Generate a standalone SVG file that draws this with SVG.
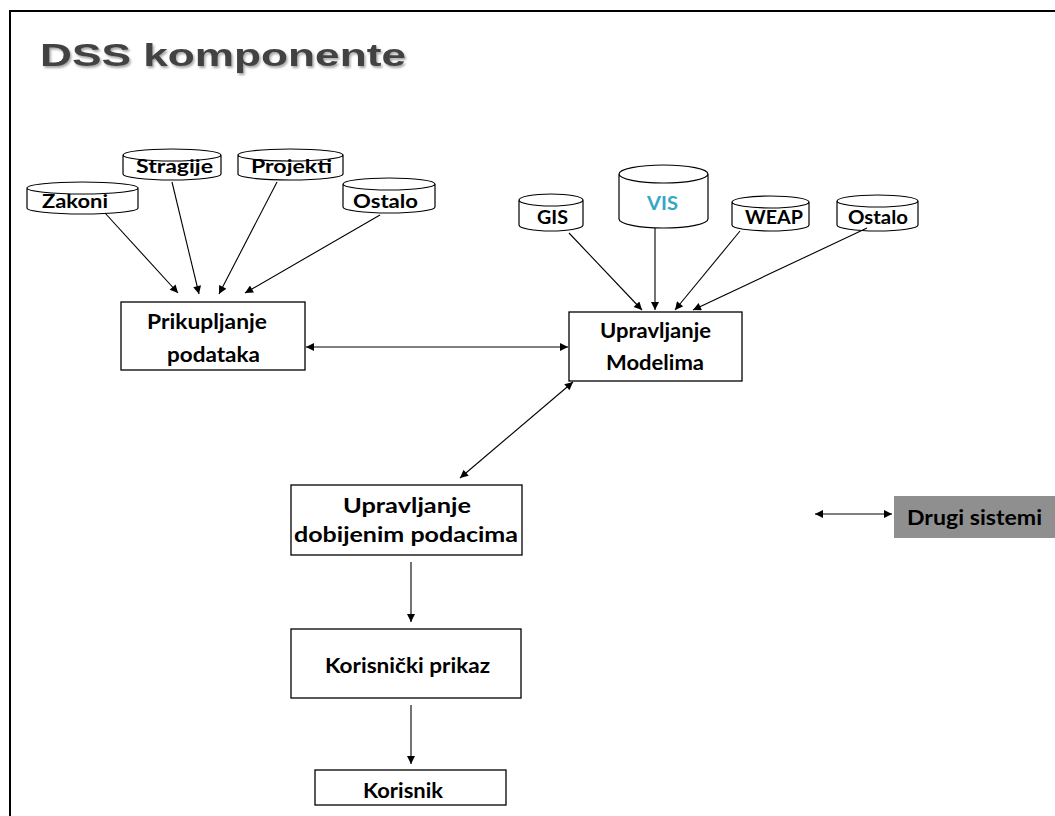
<svg xmlns="http://www.w3.org/2000/svg" width="1055" height="816" viewBox="0 0 1055 816">
<defs>
<marker id="ah" viewBox="0 0 10 10" refX="10" refY="5" markerWidth="9" markerHeight="8" markerUnits="userSpaceOnUse" orient="auto-start-reverse">
<path d="M0,0 L10,5 L0,10 Z" fill="#000"/>
</marker>
<filter id="sh" x="-5%" y="-20%" width="110%" height="150%">
<feDropShadow dx="1.5" dy="2" stdDeviation="1.2" flood-color="#000" flood-opacity="0.35"/>
</filter>
</defs>
<style>
.box{fill:#fff;stroke:#000;stroke-width:1.3}
.cyl{fill:#fff;stroke:#000;stroke-width:1.2}
.lbl{font-family:Lato,"Open Sans","Liberation Sans",sans-serif;font-weight:700;fill:#000;text-anchor:start}
.s18{font-size:18px}
.s21{font-size:21px}
.con line{stroke:#000;stroke-width:1.1}
</style>
<rect width="1055" height="816" fill="#fff"/>
<path d="M10,816 V11 H1055" fill="none" stroke="#000" stroke-width="2"/>
<text x="40" y="66" font-family="Liberation Sans, Arial, sans-serif" font-weight="700" font-size="32" fill="#424242" textLength="366" lengthAdjust="spacingAndGlyphs" filter="url(#sh)">DSS komponente</text>

<g id="zakoni">
<path class="cyl" d="M27,188 A55.5,6 0 0 1 138,188 V208 A55.5,6 0 0 1 27,208 Z M27,188 A55.5,6 0 0 0 138,188"/>
<text class="lbl s18" x="42" y="208" textLength="66" lengthAdjust="spacingAndGlyphs">Zakoni</text>
</g>
<g id="stragije">
<path class="cyl" d="M123,155 A49,6 0 0 1 221,155 V174 A49,6 0 0 1 123,174 Z M123,155 A49,6 0 0 0 221,155"/>
<text class="lbl s18" x="136" y="173" textLength="77" lengthAdjust="spacingAndGlyphs">Stragije</text>
</g>
<g id="projekti">
<path class="cyl" d="M238,155 A52.5,6 0 0 1 343,155 V174 A52.5,6 0 0 1 238,174 Z M238,155 A52.5,6 0 0 0 343,155"/>
<text class="lbl s18" x="251" y="173" textLength="81" lengthAdjust="spacingAndGlyphs">Projekti</text>
</g>
<g id="ostalo1">
<path class="cyl" d="M343,184 A46,6 0 0 1 435,184 V207 A46,6 0 0 1 343,207 Z M343,184 A46,6 0 0 0 435,184"/>
<text class="lbl s18" x="353" y="208" textLength="65" lengthAdjust="spacingAndGlyphs">Ostalo</text>
</g>

<g id="gis">
<path class="cyl" d="M519,200 A32,6 0 0 1 583,200 V225 A32,6 0 0 1 519,225 Z M519,200 A32,6 0 0 0 583,200"/>
<text class="lbl s18" x="537" y="224" textLength="31" lengthAdjust="spacingAndGlyphs">GIS</text>
</g>
<g id="vis">
<path class="cyl" d="M619,174 A44.5,9 0 0 1 708,174 V219 A44.5,9 0 0 1 619,219 Z M619,174 A44.5,9 0 0 0 708,174"/>
<text class="lbl s18" x="647" y="210" textLength="31" lengthAdjust="spacingAndGlyphs" style="fill:#36a6c6">VIS</text>
</g>
<g id="weap">
<path class="cyl" d="M732,202 A38.5,6 0 0 1 809,202 V225 A38.5,6 0 0 1 732,225 Z M732,202 A38.5,6 0 0 0 809,202"/>
<text class="lbl s18" x="745" y="224" textLength="58" lengthAdjust="spacingAndGlyphs">WEAP</text>
</g>
<g id="ostalo2">
<path class="cyl" d="M837,201 A40.5,6 0 0 1 918,201 V225 A40.5,6 0 0 1 837,225 Z M837,201 A40.5,6 0 0 0 918,201"/>
<text class="lbl s18" x="848" y="224" textLength="60" lengthAdjust="spacingAndGlyphs">Ostalo</text>
</g>

<g id="prikupljanje">
<rect class="box" x="121" y="302" width="184" height="68"/>
<text class="lbl s21" x="147" y="329" textLength="120" lengthAdjust="spacingAndGlyphs">Prikupljanje</text>
<text class="lbl s21" x="167" y="362" textLength="93" lengthAdjust="spacingAndGlyphs">podataka</text>
</g>
<g id="upravljanje-modelima">
<rect class="box" x="569" y="312" width="173" height="69"/>
<text class="lbl s21" x="600" y="338" textLength="111" lengthAdjust="spacingAndGlyphs">Upravljanje</text>
<text class="lbl s21" x="606" y="370" textLength="98" lengthAdjust="spacingAndGlyphs">Modelima</text>
</g>
<g id="upravljanje-podacima">
<rect class="box" x="291" y="485" width="231" height="70"/>
<text class="lbl s21" x="343" y="513" textLength="128" lengthAdjust="spacingAndGlyphs">Upravljanje</text>
<text class="lbl s21" x="294" y="542" textLength="224" lengthAdjust="spacingAndGlyphs">dobijenim  podacima</text>
</g>
<g id="korisnicki-prikaz">
<rect class="box" x="291" y="629" width="230" height="69"/>
<text class="lbl s21" x="325" y="673" textLength="165" lengthAdjust="spacingAndGlyphs">Korisnički  prikaz</text>
</g>
<g id="korisnik">
<rect class="box" x="315" y="770" width="191" height="35"/>
<text class="lbl s21" x="363" y="798" textLength="80" lengthAdjust="spacingAndGlyphs">Korisnik</text>
</g>
<g id="drugi-sistemi">
<rect x="894" y="496" width="161" height="42" fill="#8f8f8f"/>
<text class="lbl s21" x="907" y="525" textLength="135" lengthAdjust="spacingAndGlyphs">Drugi  sistemi</text>
</g>

<g id="connectors" class="con">
<line x1="105" y1="213" x2="178" y2="293" marker-end="url(#ah)"/>
<line x1="172" y1="182" x2="199" y2="294" marker-end="url(#ah)"/>
<line x1="277" y1="182" x2="219" y2="294" marker-end="url(#ah)"/>
<line x1="380" y1="215" x2="245" y2="293" marker-end="url(#ah)"/>
<line x1="569" y1="233" x2="642" y2="310" marker-end="url(#ah)"/>
<line x1="655" y1="228" x2="655" y2="310" marker-end="url(#ah)"/>
<line x1="740" y1="231" x2="675" y2="310" marker-end="url(#ah)"/>
<line x1="867" y1="228" x2="693" y2="310" marker-end="url(#ah)"/>
<line x1="306" y1="347" x2="568" y2="347" marker-start="url(#ah)" marker-end="url(#ah)"/>
<line x1="460" y1="478" x2="573" y2="382" marker-start="url(#ah)" marker-end="url(#ah)"/>
<line x1="411" y1="562" x2="411" y2="622" marker-end="url(#ah)"/>
<line x1="411" y1="705" x2="411" y2="764" marker-end="url(#ah)"/>
<line x1="815" y1="514" x2="892" y2="514" marker-start="url(#ah)" marker-end="url(#ah)"/>
</g>
</svg>
